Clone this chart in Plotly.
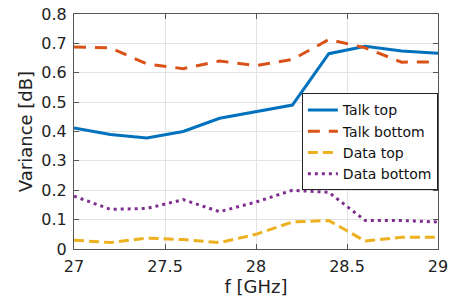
import plotly.graph_objects as go

freq = [27.0, 27.2, 27.4, 27.6, 27.8, 28.0, 28.2, 28.4, 28.6, 28.8, 29.0]
talk_top = [0.412, 0.390, 0.378, 0.400, 0.445, 0.468, 0.490, 0.665, 0.690, 0.674, 0.666]
talk_bottom = [0.688, 0.685, 0.630, 0.614, 0.640, 0.624, 0.645, 0.713, 0.685, 0.636, 0.637]
data_top = [0.030, 0.022, 0.037, 0.032, 0.022, 0.050, 0.092, 0.097, 0.027, 0.040, 0.040]
data_bottom = [0.180, 0.135, 0.138, 0.168, 0.127, 0.160, 0.200, 0.193, 0.097, 0.097, 0.092]

x_ticks = [27, 27.5, 28, 28.5, 29]
x_labels = ["27", "27.5", "28", "28.5", "29"]
y_ticks = [0, 0.1, 0.2, 0.3, 0.4, 0.5, 0.6, 0.7, 0.8]
y_labels = ["0", "0.1", "0.2", "0.3", "0.4", "0.5", "0.6", "0.7", "0.8"]

names = ["Talk top", "Talk bottom", "Data top", "Data bottom"]
colors = ["#0072BD", "#D95319", "#EDB120", "#7E2F8E"]
dashes = ["solid", "12px,9px", "10px,5px", "3px,4px"]
series = [talk_top, talk_bottom, data_top, data_bottom]

fig = go.Figure()
for n, c, d, s in zip(names, colors, dashes, series):
    fig.add_trace(go.Scatter(x=freq, y=s, mode="lines", name=n,
                             line=dict(color=c, width=3, dash=d)))

font = "DejaVu Sans, sans-serif"
axis_common = dict(
    showgrid=True, gridcolor="#e3e3e3", gridwidth=1,
    showline=True, linecolor="#555", linewidth=1, mirror="ticks",
    ticks="inside", ticklen=5, tickcolor="#555",
    tickfont=dict(family=font, size=16, color="#222"),
    zeroline=False, automargin=False, ticklabelstandoff=3,
)
fig.update_layout(
    width=450, height=299,
    margin=dict(l=74, r=12, t=14, b=50),
    paper_bgcolor="white", plot_bgcolor="white",
    font=dict(family=font, color="#222"),
    xaxis=dict(range=[27, 29], tickvals=x_ticks, ticktext=x_labels,
               title=dict(text="f [GHz]", font=dict(family=font, size=18), standoff=4),
               **axis_common),
    yaxis=dict(range=[0, 0.8], tickvals=y_ticks, ticktext=y_labels,
               title=dict(text="Variance [dB]", font=dict(family=font, size=18), standoff=4),
               **axis_common),
    legend=dict(x=0.626, y=0.662, xanchor="left", yanchor="top",
                bgcolor="white", bordercolor="#222", borderwidth=1,
                font=dict(family=font, size=14, color="#111"),
                tracegroupgap=0, itemwidth=30),
    showlegend=True,
)
fig.write_html("out.html", config={"displayModeBar": False},
               post_script="document.body.style.margin='0';document.body.style.overflow='hidden';")
